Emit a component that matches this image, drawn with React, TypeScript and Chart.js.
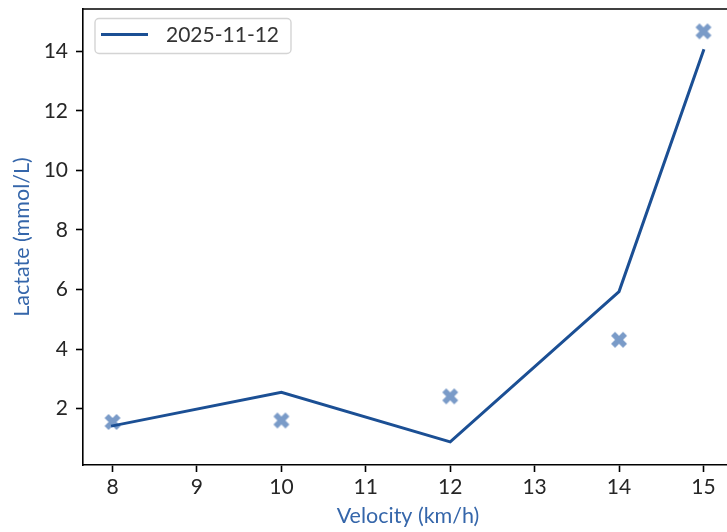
import React, { useEffect, useRef } from "react";
import { Chart, registerables } from "chart.js";

Chart.register(...registerables);

const velocities = [8, 10, 12, 14, 15];
const fittedLactate = [1.42, 2.55, 0.88, 5.93, 14.02];
const measuredLactate = [1.55, 1.6, 2.41, 4.31, 14.67];
const xTicks = [8, 9, 10, 11, 12, 13, 14, 15];
const yTicks = [2, 4, 6, 8, 10, 12, 14];
const seriesLabel = "2025-11-12";
const xTitle = "Velocity (km/h)";
const yTitle = "Lactate (mmol/L)";

const LINE_COLOR = "#1b4f94";
const MARKER_COLOR = "rgba(66, 112, 176, 0.7)";
const TITLE_COLOR = "#3566aa";
const TICK_COLOR = "#262626";
const FONT = "Lato";

function makeXMarker(size: number): HTMLCanvasElement {
  const c = document.createElement("canvas");
  c.width = size + 2;
  c.height = size + 2;
  const ctx = c.getContext("2d")!;
  const pts = [
    [-1, -2], [0, -1], [1, -2], [2, -1], [1, 0], [2, 1],
    [1, 2], [0, 1], [-1, 2], [-2, 1], [-1, 0], [-2, -1],
  ];
  const cx = c.width / 2;
  const cy = c.height / 2;
  ctx.beginPath();
  pts.forEach(([px, py], i) => {
    const x = cx + (px / 4) * size;
    const y = cy + (py / 4) * size;
    if (i === 0) ctx.moveTo(x, y);
    else ctx.lineTo(x, y);
  });
  ctx.closePath();
  ctx.fillStyle = MARKER_COLOR;
  ctx.fill();
  return c;
}

export default function App() {
  const ref = useRef<HTMLCanvasElement | null>(null);

  useEffect(() => {
    document.body.style.margin = "0";
    document.body.style.overflow = "hidden";
    document.documentElement.style.overflow = "hidden";
    const canvas = ref.current!;
    const marker = makeXMarker(16);

    const decor = {
      id: "decor",
      afterDraw(chart: any) {
        const { ctx, chartArea } = chart;
        ctx.save();
        // top spine
        ctx.strokeStyle = "#000";
        ctx.lineWidth = 1.6;
        ctx.beginPath();
        ctx.moveTo(chartArea.left - 0.8, chartArea.top);
        ctx.lineTo(chartArea.right, chartArea.top);
        ctx.stroke();

        // axis titles
        ctx.fillStyle = TITLE_COLOR;
        ctx.font = `21.5px ${FONT}`;
        ctx.textAlign = "center";
        ctx.textBaseline = "alphabetic";
        ctx.fillText(xTitle, (chartArea.left + chartArea.right) / 2, 523);
        ctx.save();
        ctx.translate(28.5, (chartArea.top + chartArea.bottom) / 2);
        ctx.rotate(-Math.PI / 2);
        ctx.fillText(yTitle, 0, 0);
        ctx.restore();

        // legend
        const bx = 95, by = 18.5, bw = 196, bh = 35, r = 4;
        ctx.beginPath();
        ctx.moveTo(bx + r, by);
        ctx.lineTo(bx + bw - r, by);
        ctx.arcTo(bx + bw, by, bx + bw, by + r, r);
        ctx.lineTo(bx + bw, by + bh - r);
        ctx.arcTo(bx + bw, by + bh, bx + bw - r, by + bh, r);
        ctx.lineTo(bx + r, by + bh);
        ctx.arcTo(bx, by + bh, bx, by + bh - r, r);
        ctx.lineTo(bx, by + r);
        ctx.arcTo(bx, by, bx + r, by, r);
        ctx.closePath();
        ctx.fillStyle = "rgba(255,255,255,0.8)";
        ctx.fill();
        ctx.strokeStyle = "#d4d4d4";
        ctx.lineWidth = 1.4;
        ctx.stroke();

        ctx.strokeStyle = LINE_COLOR;
        ctx.lineWidth = 3;
        ctx.beginPath();
        ctx.moveTo(101, 34.5);
        ctx.lineTo(148, 34.5);
        ctx.stroke();

        ctx.fillStyle = "#333333";
        ctx.font = `21px ${FONT}`;
        ctx.textAlign = "left";
        ctx.textBaseline = "middle";
        ctx.fillText(seriesLabel, 166, 35.5);
        ctx.restore();
      },
    };

    const chart = new Chart(canvas, {
      type: "scatter",
      data: {
        datasets: [
          {
            label: seriesLabel,
            data: velocities.map((v, i) => ({ x: v, y: fittedLactate[i] })),
            showLine: true,
            borderColor: LINE_COLOR,
            borderWidth: 3,
            pointRadius: 0,
            fill: false,
            tension: 0,
            borderCapStyle: "square",
          },
          {
            label: "measured",
            data: velocities.map((v, i) => ({ x: v, y: measuredLactate[i] })),
            showLine: false,
            pointStyle: marker,
            pointRadius: 8,
          },
        ],
      },
      options: {
        animation: false,
        responsive: false,
        devicePixelRatio: 1,
        layout: { padding: { left: 0, top: 6, right: 12, bottom: 0 } },
        plugins: {
          legend: { display: false },
          tooltip: { enabled: false },
        },
        scales: {
          x: {
            type: "linear",
            min: 7.65,
            max: 15.35,
            afterBuildTicks: (s: any) => {
              s.ticks = xTicks.map((v) => ({ value: v }));
            },
            afterFit: (s: any) => {
              s.height = 67;
              s.paddingLeft = 0;
              s.paddingRight = 0;
            },
            grid: {
              drawOnChartArea: false,
              drawTicks: true,
              tickLength: 7,
              tickWidth: 1.6,
              tickColor: "#000",
            },
            border: { display: true, color: "#000", width: 1.6 },
            ticks: {
              color: TICK_COLOR,
              font: { family: FONT, size: 21 },
              padding: 3,
              maxRotation: 0,
            },
          },
          y: {
            type: "linear",
            min: 0.105,
            max: 15.42,
            afterBuildTicks: (s: any) => {
              s.ticks = yTicks.map((v) => ({ value: v }));
            },
            afterFit: (s: any) => {
              s.width = 83;
              s.paddingTop = 0;
              s.paddingBottom = 0;
            },
            grid: {
              drawOnChartArea: false,
              drawTicks: true,
              tickLength: 7,
              tickWidth: 1.6,
              tickColor: "#000",
            },
            border: { display: true, color: "#000", width: 1.6 },
            ticks: {
              color: TICK_COLOR,
              font: { family: FONT, size: 21 },
              padding: 8,
            },
          },
        },
      },
      plugins: [decor],
    } as any);

    return () => chart.destroy();
  }, []);

  return (
    <div style={{ position: "fixed", left: 0, top: 0, width: 745, height: 532, background: "#fff" }}>
      <canvas ref={ref} width={745} height={532} />
    </div>
  );
}
